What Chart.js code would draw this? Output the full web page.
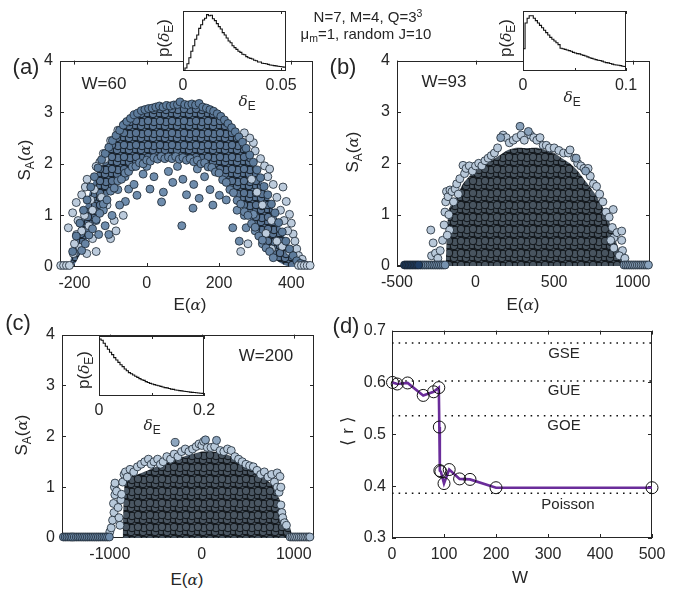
<!DOCTYPE html>
<html>
<head>
<meta charset="utf-8">
<script src="https://cdn.jsdelivr.net/npm/chart.js"></script>
<style>
  body { margin:0; width:684px; height:593px; position:relative; background:#fff; overflow:hidden;
         font-family:"Liberation Sans", Arial, sans-serif; color:#262626; }
  canvas { position:absolute; }
  .t { position:absolute; white-space:nowrap; transform:translate(-50%,-50%); font-size:17px; line-height:1; }
  .rot { transform:translate(-50%,-50%) rotate(-90deg); }
  .pl { font-size:22px; }
  .small { font-size:15px; }
  sub { font-size:70%; vertical-align:-0.3em; line-height:0; }
  sup { font-size:70%; vertical-align:0.45em; line-height:0; }
  .g { font-family:"DejaVu Serif", serif; font-style:italic; font-size:90%; }
</style>
</head>
<body>
<canvas id="ca"></canvas>
<canvas id="cb"></canvas>
<canvas id="cc"></canvas>
<canvas id="cd"></canvas>
<canvas id="ia"></canvas>
<canvas id="ib"></canvas>
<canvas id="ic"></canvas>

<div class="t small" style="left:368px; top:16px;">N=7, M=4, Q=3<sup>3</sup></div>
<div class="t small" style="left:366px; top:33px;">μ<sub>m</sub>=1, random J=10</div>

<div class="t pl" style="left:26px; top:67px;">(a)</div>
<div class="t pl" style="left:343px; top:67px;">(b)</div>
<div class="t pl" style="left:18px; top:323px;">(c)</div>
<div class="t pl" style="left:346px; top:326px;">(d)</div>

<div class="t" style="left:104px; top:83px;">W=60</div>
<div class="t" style="left:444px; top:81px;">W=93</div>
<div class="t" style="left:266px; top:355px;">W=200</div>

<div class="t" style="left:190px; top:305px;">E(<span class="g">α</span>)</div>
<div class="t" style="left:523px; top:305px;">E(<span class="g">α</span>)</div>
<div class="t" style="left:187px; top:580px;">E(<span class="g">α</span>)</div>
<div class="t" style="left:520px; top:577px;">W</div>

<div class="t rot" style="left:25px; top:160px;">S<sub>A</sub>(<span class="g">α</span>)</div>
<div class="t rot" style="left:353px; top:152px;">S<sub>A</sub>(<span class="g">α</span>)</div>
<div class="t rot" style="left:22px; top:435px;">S<sub>A</sub>(<span class="g">α</span>)</div>
<div class="t rot" style="left:347px; top:431px;">⟨ r ⟩</div>

<div class="t rot" style="left:164px; top:38px;">p(<span class="g">δ</span><sub>E</sub>)</div>
<div class="t rot" style="left:506px; top:38px;">p(<span class="g">δ</span><sub>E</sub>)</div>
<div class="t rot" style="left:84px; top:370px;">p(<span class="g">δ</span><sub>E</sub>)</div>
<div class="t" style="left:247px; top:101px;"><span class="g">δ</span><sub>E</sub></div>
<div class="t" style="left:572px; top:97px;"><span class="g">δ</span><sub>E</sub></div>
<div class="t" style="left:152px; top:425px;"><span class="g">δ</span><sub>E</sub></div>

<div class="t small" style="left:564px; top:352px;">GSE</div>
<div class="t small" style="left:564px; top:389px;">GUE</div>
<div class="t small" style="left:564px; top:424px;">GOE</div>
<div class="t small" style="left:568px; top:503px;">Poisson</div>

<script>
// ---------- panel (a): W=60 ----------
const aCoreE  = [-212,-200,-180,-160,-140,-120,-100,-80,-60,-40,-20,0,20,40,60,80,100,120,140,160,180,200,220,240,260,280,300,320,340,360,380,400,420];
const aCoreUp = [0.1,0.45,0.95,1.4,1.8,2.12,2.38,2.58,2.75,2.88,2.97,3.03,3.06,3.08,3.1,3.11,3.12,3.11,3.09,3.05,2.99,2.9,2.78,2.62,2.42,2.18,1.92,1.62,1.3,0.95,0.6,0.28,0.05];
const aCoreLo = [0,0.05,0.3,0.6,0.9,1.2,1.45,1.65,1.8,1.92,2.0,2.05,2.1,2.12,2.12,2.12,2.1,2.08,2.05,2.0,1.92,1.8,1.62,1.42,1.2,0.98,0.75,0.5,0.28,0.12,0.04,0,0];
const aTopPts = [[-205,0.3],[-195,0.6],[-185,0.85],[-175,1.1],[-165,1.3],[-155,1.55],[-145,1.75],[-135,1.92],[-125,2.08],[-115,2.2],[-105,2.32],[-95,2.45],[-85,2.55],[-75,2.65],[-65,2.75],[-55,2.82],[-45,2.88],[-35,2.95],[-25,2.98],[-15,3.03],[-5,3.05],[5,3.07],[15,3.08],[25,3.1],[35,3.12],[45,3.1],[55,3.13],[65,3.12],[75,3.14],[85,3.15],[92,3.2],[105,3.15],[115,3.14],[125,3.16],[135,3.14],[145,3.17],[155,3.1],[165,3.08],[175,3.05],[185,3.02],[195,2.97],[205,2.92],[215,2.85],[225,2.78],[235,2.7],[245,2.62],[255,2.52],[265,2.42],[275,2.3],[285,2.17],[295,2.03],[305,1.88],[315,1.73],[325,1.56],[335,1.4],[345,1.22],[355,1.05],[365,0.86],[375,0.68],[385,0.5],[395,0.35],[405,0.22],[415,0.12],[425,0.07],[435,0.05]];
const aLowPts = [[-180,0.32],[-170,0.45],[-160,0.62],[-150,0.74],[-140,0.92],[-130,1.04],[-120,1.22],[-110,1.3],[-100,1.47],[-90,1.53],[-80,1.67],[-70,1.7],[-60,1.82],[-50,1.85],[-40,1.94],[-30,1.95],[-20,2.02],[-10,2.0],[0,2.07],[10,2.05],[20,2.12],[30,2.09],[40,2.14],[50,2.1],[60,2.13],[70,2.1],[80,2.14],[90,2.09],[100,2.12],[110,2.07],[120,2.1],[130,2.04],[140,2.07],[150,2.0],[160,2.02],[170,1.94],[180,1.93],[190,1.84],[200,1.82],[210,1.69],[220,1.64],[230,1.5],[240,1.44],[250,1.29],[260,1.22],[270,1.07],[280,1.0],[290,0.84],[300,0.77],[310,0.6],[320,0.52],[330,0.37],[340,0.3],[350,0.18]];
const aInnerPts = [[9,1.51],[46,1.45],[41,1.26],[97,0.8],[128,1.14],[145,1.33],[72,1.64],[-59,1.27],[-50,1.51],[-96,1.0],[-105,0.63],[-133,0.63],[-27,1.39],[183,1.2],[201,1.39],[238,0.76],[256,0.5],[275,0.76],[295,1.02],[20,1.75],[-10,1.8],[100,1.7],[130,1.6],[160,1.75],[60,1.85],[-80,1.5],[-120,1.1],[-140,0.9],[220,1.3],[250,1.1],[270,1.0],[300,0.7],[320,0.45],[-75,1.2],[-115,0.8],[175,1.5],[110,1.4],[-35,1.6],[0,1.95],[85,1.95],[140,1.9],[-60,1.75]];
const aLightPts = [[-217,0.76],[-194,0.63],[-185,0.38],[-166,0.26],[-203,0.26],[-200,0.45],[-190,0.9],[-180,0.7],[-172,1.0],[-160,0.8],[-150,1.1],[-155,1.3],[-130,2.03],[-116,2.09],[-145,1.5],[-170,1.55],[-125,1.35],[-110,1.2],[-90,0.9],[-100,0.55],[-85,0.7],[-65,1.0],[295,2.41],[326,1.96],[340,1.9],[377,1.55],[386,1.27],[395,1.02],[405,0.64],[410,0.5],[400,0.85],[390,0.7],[380,0.9],[370,1.1],[360,1.35],[350,1.6],[335,1.75],[315,2.1],[300,2.25],[285,2.5],[270,2.6],[375,0.4],[395,0.3],[415,0.35],[420,0.22],[430,0.15],[360,0.5],[345,0.35],[330,0.65],[345,0.9],[320,1.2],[305,1.45],[290,1.7],[280,0.45],[260,0.3],[-140,0.3],[-150,0.55],[-205,1.05],[-195,1.25],[-180,1.4],[-165,1.7],[-140,1.95],[-120,2.2],[-100,2.45],[-80,2.65],[-60,2.78]];
const aBaseE = [-238,-230,-222,-214,420,428,436,444,452];

// ---------- panel (b): W=93 ----------
const bCoreE  = [-190,-170,-120,-80,-40,0,50,100,150,200,250,300,350,400,450,500,550,600,650,700,750,800,840,880,920,950];
const bCoreUp = [0,1.1,1.35,1.6,1.75,1.85,1.95,2.05,2.15,2.25,2.3,2.3,2.3,2.3,2.25,2.2,2.1,2.0,1.85,1.65,1.45,1.2,0.95,0.6,0.25,0];
const bLightPts = [[-285,0.7],[-270,0.45],[-280,0.2],[-255,0.25],[-240,0.15],[-225,0.3],[-210,0.5],[-200,0.8],[-195,1.05],[-190,1.25],[-185,1.45],[-175,1.35],[-170,1.0],[-165,0.7],[-180,0.6],[-163,1.48],[-150,1.45],[-140,1.25],[-130,1.5],[-120,1.6],[-110,1.4],[-100,1.7],[-80,1.96],[-70,1.8],[-60,1.9],[-40,1.95],[-20,1.85],[0,1.95],[20,2.0],[40,1.95],[60,2.05],[80,2.1],[100,2.15],[120,2.2],[140,2.3],[175,2.55],[195,2.5],[215,2.4],[240,2.45],[260,2.5],[290,2.55],[310,2.45],[350,2.55],[370,2.5],[390,2.45],[410,2.5],[430,2.35],[450,2.35],[470,2.3],[500,2.3],[530,2.25],[560,2.2],[590,2.2],[601,2.26],[630,2.1],[650,2.0],[670,1.95],[690,1.9],[716,1.9],[730,1.75],[750,1.6],[770,1.55],[790,1.4],[810,1.25],[830,1.05],[850,0.95],[876,1.1],[870,0.75],[880,0.55],[900,0.65],[930,0.68],[930,0.5],[935,0.3],[915,0.2],[950,0.15],[880,0.35],[860,0.5]];
const bMidPts = [[283,2.72],[336,2.62],[160,2.5],[640,2.1],[700,1.85]];
const bNavyE = [-452,-442,-432,-422,-412,-402,-392,-382,-372,-362];
const bBaseMidE = [-350,-338,-326,-314,-302,-290,-278,-266,-254,-242,-230,-218,-206,-194];
const bBaseRightE = [945,957,969,981,993,1005,1017,1029,1041,1053,1065,1077,1089,1100];

// ---------- panel (c): W=200 ----------
const cCoreE  = [-860,-840,-800,-700,-600,-500,-400,-300,-200,-100,0,100,200,300,400,500,600,700,760,800,840,880,920,960,990];
const cCoreUp = [0,1.05,1.18,1.25,1.32,1.4,1.48,1.55,1.6,1.65,1.7,1.7,1.68,1.62,1.52,1.4,1.28,1.15,1.05,0.92,0.78,0.6,0.4,0.2,0];
const cLightPts = [[-1000,0.12],[-985,0.2],[-970,0.35],[-955,0.5],[-960,0.68],[-945,0.85],[-950,1.0],[-944,1.08],[-926,0.92],[-910,0.6],[-900,0.4],[-890,0.25],[-880,0.75],[-872,0.86],[-860,1.1],[-845,1.25],[-830,1.3],[-810,1.2],[-780,1.35],[-740,1.3],[-700,1.4],[-660,1.45],[-620,1.5],[-580,1.55],[-550,1.45],[-520,1.5],[-480,1.55],[-450,1.45],[-420,1.5],[-380,1.6],[-340,1.55],[-300,1.65],[-260,1.6],[-220,1.7],[-180,1.75],[-140,1.7],[-100,1.75],[-60,1.8],[-30,1.85],[0,1.82],[20,1.9],[60,1.78],[100,1.78],[140,1.8],[200,1.72],[240,1.7],[280,1.75],[320,1.72],[360,1.6],[400,1.55],[440,1.5],[480,1.45],[520,1.42],[560,1.4],[600,1.33],[640,1.25],[680,1.3],[720,1.2],[760,1.25],[820,1.28],[850,1.21],[790,1.1],[820,1.0],[840,0.9],[860,0.65],[870,0.5],[880,0.4],[900,0.3],[920,0.25],[860,1.0]];
const cMidPts = [[-290,1.88],[40,1.93],[160,1.92]];
const cBaseLeftE = [-1505,-1485,-1465,-1445,-1425,-1405,-1385,-1365,-1345,-1325,-1305,-1285,-1265,-1245,-1225,-1205,-1185,-1165,-1145,-1125,-1105,-1085,-1065,-1045,-1025,-1005];
const cBaseRightE = [960,980,1000,1020,1040,1060,1080,1100,1120,1140,1160,1175];

// ---------- insets: level-spacing histograms p(delta_E) ----------
const iaX = [0,0.001,0.002,0.003,0.004,0.005,0.006,0.007,0.008,0.009,0.010,0.011,0.012,0.013,0.014,0.015,0.016,0.017,0.018,0.019,0.020,0.021,0.022,0.023,0.024,0.025,0.026,0.027,0.028,0.029,0.030,0.031,0.032,0.033,0.034,0.035,0.036,0.037,0.038,0.039,0.040,0.041,0.042,0.043,0.044,0.045,0.046,0.047,0.048,0.049,0.050,0.051,0.052];
const iaY = [0,0.05,0.12,0.22,0.33,0.42,0.53,0.6,0.71,0.77,0.85,0.88,0.94,0.92,0.93,0.87,0.84,0.79,0.74,0.7,0.64,0.6,0.55,0.5,0.47,0.42,0.39,0.36,0.33,0.31,0.28,0.27,0.24,0.22,0.21,0.2,0.18,0.17,0.15,0.15,0.13,0.125,0.12,0.11,0.1,0.095,0.09,0.085,0.08,0.075,0.07,0.065,0.06];
const ibX = [0,0.002,0.004,0.006,0.008,0.010,0.012,0.014,0.016,0.018,0.020,0.022,0.024,0.026,0.028,0.030,0.032,0.034,0.036,0.038,0.040,0.042,0.044,0.046,0.048,0.050,0.052,0.054,0.056,0.058,0.060,0.062,0.064,0.066,0.068,0.070,0.072,0.074,0.076,0.078,0.080,0.082,0.084,0.086,0.088,0.090,0.092,0.094,0.096,0.098,0.100];
const ibY = [0.37,0.8,0.88,0.92,0.92,0.88,0.84,0.8,0.76,0.72,0.68,0.64,0.6,0.56,0.53,0.5,0.47,0.44,0.38,0.37,0.36,0.35,0.34,0.33,0.31,0.3,0.29,0.285,0.27,0.26,0.25,0.235,0.22,0.21,0.2,0.19,0.18,0.175,0.165,0.15,0.14,0.135,0.125,0.115,0.105,0.1,0.095,0.09,0.08,0.075,0.07];
const icX = [0,0.004,0.008,0.012,0.016,0.020,0.024,0.028,0.032,0.036,0.040,0.044,0.048,0.052,0.056,0.060,0.064,0.068,0.072,0.076,0.080,0.084,0.088,0.092,0.096,0.100,0.104,0.108,0.112,0.116,0.120,0.124,0.128,0.132,0.136,0.140,0.144,0.148,0.152,0.156,0.160,0.164,0.168,0.172,0.176,0.180,0.184,0.188,0.192,0.196,0.200];
const icY = [0.95,0.93,0.88,0.83,0.78,0.73,0.69,0.64,0.6,0.56,0.52,0.49,0.45,0.42,0.39,0.37,0.35,0.33,0.31,0.29,0.27,0.26,0.24,0.225,0.21,0.2,0.19,0.18,0.17,0.16,0.15,0.14,0.135,0.125,0.115,0.11,0.1,0.095,0.09,0.085,0.08,0.075,0.07,0.065,0.06,0.058,0.055,0.05,0.047,0.044,0.04];

// ---------- panel (d): <r> vs W ----------
const dW = [1,10,30,60,80,90,91,92,94,100,110,130,150,200,500];
const dR = [0.600,0.597,0.599,0.575,0.582,0.590,0.514,0.430,0.428,0.405,0.432,0.414,0.413,0.397,0.397];
const dRefVals = [0.6762, 0.6027, 0.5359, 0.3863];   // GSE, GUE, GOE, Poisson

// tick sets
const xTicksA = [-200,0,200,400];
const xTicksB = [-500,0,500,1000];
const xTicksC = [-1000,0,1000];
const yTicksS = [0,1,2,3,4];
const xTicksD = [0,100,200,300,400,500];
const yTicksD = [0.3,0.4,0.5,0.6,0.7];

Chart.defaults.font.family = '"Liberation Sans", Arial, sans-serif';
Chart.defaults.color = '#262626';

const INK = '#262626';
const pts = arr => arr.map(p => ({x: p[0], y: p[1]}));
const row = (E, s) => E.map(x => ({x, y: s}));
const line = (X, Y) => X.map((x, i) => ({x, y: Y[i]}));

// texture of overlapping markers, used to paint the dense part of each cloud
function texture(bg, fill, edge) {
  const c = document.createElement('canvas');
  c.width = 12; c.height = 12;
  const g = c.getContext('2d');
  g.fillStyle = bg; g.fillRect(0, 0, 12, 12);
  const spots = [[0,0],[6,2],[3,6],[9,8],[1,10],[7,11],[10,4],[4,1],[2,3],[8,6],[5,9],[11,10],[0,6],[6,5]];
  g.lineWidth = 1; g.strokeStyle = edge; g.fillStyle = fill;
  spots.forEach(([x, y]) => {
    for (const dx of [-12, 0, 12]) for (const dy of [-12, 0, 12]) {
      g.beginPath(); g.arc(x + dx, y + dy, 3.8, 0, Math.PI * 2);
      g.fill(); g.stroke();
    }
  });
  return g.createPattern(c, 'repeat');
}

// frame with inward ticks, as in the original figure
const framePlugin = {
  id: 'frame',
  beforeDraw(chart, args, o) {
    if (!o.white) return;
    const a = chart.chartArea, ctx = chart.ctx;
    ctx.save(); ctx.fillStyle = '#fff';
    ctx.fillRect(a.left, a.top, a.right - a.left, a.bottom - a.top);
    ctx.restore();
  },
  beforeDatasetsDraw(chart, args, o) {
    const a = chart.chartArea, ctx = chart.ctx;
    const len = o.len || 4;
    ctx.save();
    ctx.strokeStyle = INK; ctx.lineWidth = 1;
    ctx.strokeRect(Math.round(a.left) + 0.5, Math.round(a.top) + 0.5,
                   Math.round(a.right - a.left) - 1, Math.round(a.bottom - a.top) - 1);
    ctx.beginPath();
    chart.scales.x.ticks.forEach(t => {
      const p = Math.round(chart.scales.x.getPixelForValue(t.value)) + 0.5;
      ctx.moveTo(p, a.bottom); ctx.lineTo(p, a.bottom - len);
      ctx.moveTo(p, a.top); ctx.lineTo(p, a.top + len);
    });
    if (!o.noY) {
      chart.scales.y.ticks.forEach(t => {
        const p = Math.round(chart.scales.y.getPixelForValue(t.value)) + 0.5;
        ctx.moveTo(a.left, p); ctx.lineTo(a.left + len, p);
        ctx.moveTo(a.right, p); ctx.lineTo(a.right - len, p);
      });
    }
    ctx.stroke();
    ctx.restore();
  }
};

function mkChart(id, box, m, datasets, sx, sy, frameOpts) {
  const cv = document.getElementById(id);
  const w = box.r - box.l + m.L + m.R, h = box.b - box.t + m.T + m.B;
  cv.width = w; cv.height = h;
  cv.style.left = (box.l - m.L) + 'px'; cv.style.top = (box.t - m.T) + 'px';
  cv.style.width = w + 'px'; cv.style.height = h + 'px';
  const axis = (s, fit) => ({
    type: 'linear',
    min: s.min, max: s.max,
    grid: {display: false, drawTicks: false},
    border: {display: false},
    afterBuildTicks: sc => { sc.ticks = s.ticks.map(v => ({value: v})); },
    afterFit: fit,
    ticks: Object.assign({font: {size: 16}, color: INK, padding: 7, callback: v => String(v)}, s.tick || {})
  });
  return new Chart(cv, {
    type: 'line',
    data: {datasets},
    options: {
      responsive: false, animation: false, events: [],
      layout: {padding: {top: m.T, right: m.R, left: 0, bottom: 0}},
      plugins: {legend: {display: false}, tooltip: {enabled: false}, frame: frameOpts || {}},
      scales: {
        x: axis(sx, sc => { sc.height = m.B; }),
        y: axis(sy, sc => { sc.width = m.L; })
      }
    },
    plugins: [framePlugin]
  });
}

function dots(data, fill, order, r) {
  return {data, showLine: false, pointRadius: r || 4, pointBackgroundColor: fill,
          pointBorderColor: '#1b2631', pointBorderWidth: 0.8, clip: false, order};
}
function core(data, color, fill) {
  return {data, borderWidth: 0, pointRadius: 0, backgroundColor: color, fill, tension: 0.25, order: 20};
}
function edge(data) {
  return {data, borderWidth: 0, pointRadius: 0, fill: false, tension: 0.25, order: 21};
}

const M = {L: 50, T: 12, R: 22, B: 30};

// (a)
mkChart('ca', {l: 60, t: 56, r: 313, b: 267}, M, [
  core(line(aCoreE, aCoreUp), texture('#1f2a36', '#5a7594', '#121a22'), '+1'),
  edge(line(aCoreE, aCoreLo)),
  dots(pts(aLightPts), '#bccbdc', 7),
  dots(pts(aInnerPts), '#6f8dad', 6),
  dots(pts(aLowPts), '#6784a4', 5),
  dots(pts(aTopPts), '#5d7b9b', 4),
  dots(row(aBaseE, 0.03), '#c2d1e0', 3)
], {min: -240, max: 460, ticks: xTicksA},
   {min: 0, max: 4, ticks: yTicksS});

// (b)
mkChart('cb', {l: 397, t: 56, r: 650, b: 266}, M, [
  core(line(bCoreE, bCoreUp), texture('#161b20', '#48545f', '#0e1216'), 'origin'),
  dots(pts(bLightPts), '#b8c8d9', 6),
  dots(pts(bMidPts), '#8aa2bb', 5),
  dots(row(bBaseMidE, 0.02), '#7591ae', 4),
  dots(row(bBaseRightE, 0.02), '#8aa3bd', 4),
  dots(row(bNavyE, 0.02), '#1f3d63', 3)
], {min: -500, max: 1110, ticks: xTicksB},
   {min: 0, max: 4, ticks: yTicksS});

// (c)
mkChart('cc', {l: 62, t: 330, r: 314, b: 538}, M, [
  core(line(cCoreE, cCoreUp), texture('#161b20', '#4a5662', '#0e1216'), 'origin'),
  dots(pts(cLightPts), '#b8c9da', 6),
  dots(pts(cMidPts), '#8ea6bf', 5),
  dots(row(cBaseLeftE, 0.02), '#6f8cab', 4),
  dots(row(cBaseRightE, 0.02), '#a5b9ce', 4)
], {min: -1520, max: 1220, ticks: xTicksC},
   {min: 0, max: 4, ticks: yTicksS});

// (d)
const refSets = dRefVals.map(v => ({
  data: [{x: 0, y: v}, {x: 500, y: v}], borderColor: '#111', borderWidth: 1.6,
  borderDash: [1.6, 5], pointRadius: 0, fill: false, order: 10
}));
mkChart('cd', {l: 392, t: 327, r: 652, b: 538}, M, refSets.concat([
  {data: line(dW, dR), borderColor: '#6a2c9a', borderWidth: 2.6, pointRadius: 0, fill: false, order: 2},
  {data: line(dW, dR), showLine: false, pointRadius: 6, pointBorderColor: '#111', pointBorderWidth: 1,
   pointBackgroundColor: 'rgba(0,0,0,0)', clip: false, order: 1}
]), {min: 0, max: 500, ticks: xTicksD},
    {min: 0.3, max: 0.7, ticks: yTicksD, tick: {padding: 6}});

// insets
const MI = {L: 10, T: 4, R: 18, B: 24};
function hist(X, Y) {
  return [{data: line(X, Y), borderColor: '#111', borderWidth: 1.1, pointRadius: 0, stepped: true, fill: false}];
}
const noY = {min: 0, max: 1, ticks: [0, 1], tick: {display: false}};
const showOnly = keep => ({padding: 5, font: {size: 16}, callback: v => keep.includes(v) ? String(v) : ''});

mkChart('ia', {l: 183, t: 11, r: 286, b: 71}, MI, hist(iaX, iaY),
  {min: 0, max: 0.0525, ticks: [0, 0.05], tick: showOnly([0, 0.05])}, noY, {white: true, noY: true, len: 3});
mkChart('ib', {l: 523, t: 11, r: 626, b: 71}, MI, hist(ibX, ibY),
  {min: 0, max: 0.1, ticks: [0, 0.05, 0.1], tick: showOnly([0, 0.1])}, noY, {white: true, noY: true, len: 3});
mkChart('ic', {l: 99, t: 336, r: 204, b: 396}, MI, hist(icX, icY),
  {min: 0, max: 0.2, ticks: [0, 0.1, 0.2], tick: showOnly([0, 0.2])}, noY, {white: true, noY: true, len: 3});
</script>
</body>
</html>
